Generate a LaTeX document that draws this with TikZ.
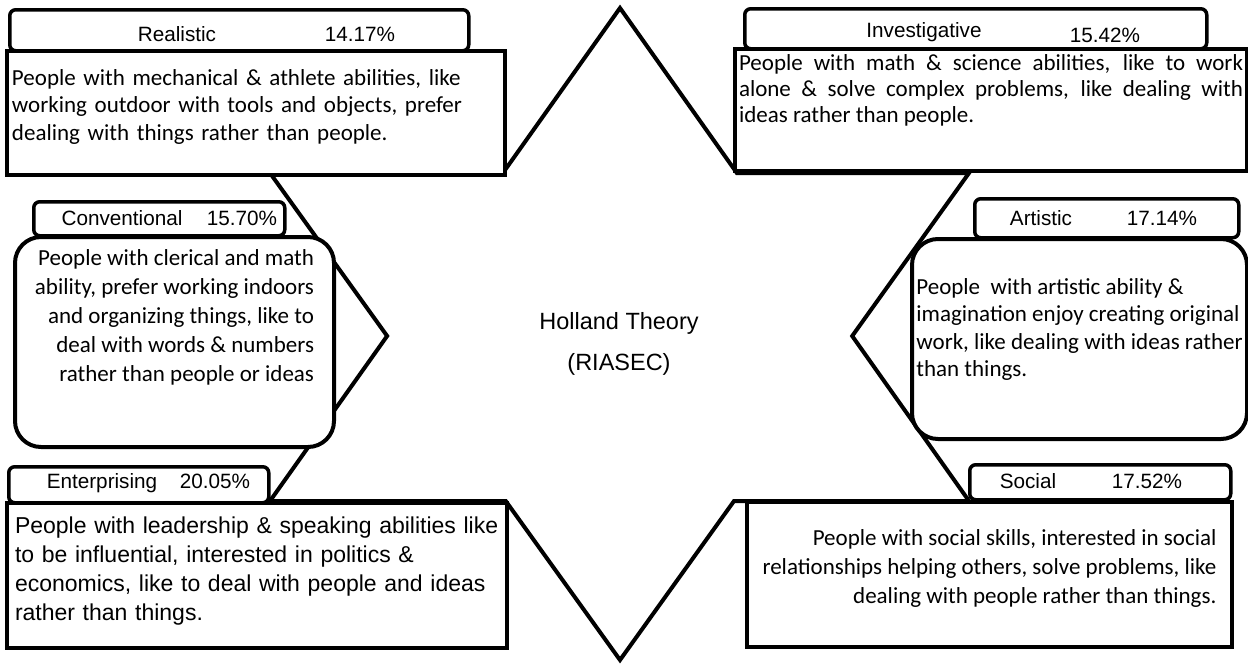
\documentclass[tikz,border=0pt]{standalone}
\usepackage{fontspec}
\setmainfont{Carlito}
\newfontfamily\arialfont{Liberation Sans}

\begin{document}
\begin{tikzpicture}[x=1pt,y=-1pt,
  head/.style={draw,line width=3.5pt,rounded corners=6pt,fill=white,anchor=north west,inner sep=0pt},
  headtxt/.style={anchor=base,inner sep=0pt,font=\arialfont\fontsize{20.7}{24}\selectfont},
  body/.style={draw,line width=4pt,fill=white,anchor=north west,inner ysep=0pt,font=\fontsize{23}{27.5}\selectfont},
  roundbody/.style={body,rounded corners=26pt}]
\useasboundingbox (0,0) rectangle (1248,667);

\coordinate (top) at (620,8);
\coordinate (bot) at (620,660);
\coordinate (ul) at (270,173);
\coordinate (ur) at (969,173);
\coordinate (ll) at (270,501);
\coordinate (lr) at (969,501);
\coordinate (iul) at (intersection of top--ll and ul--ur);
\coordinate (iur) at (intersection of top--lr and ul--ur);
\coordinate (il) at (intersection of top--ll and ul--bot);
\coordinate (ir) at (intersection of top--lr and ur--bot);
\coordinate (ill) at (intersection of ll--lr and ul--bot);
\coordinate (ilr) at (intersection of ll--lr and ur--bot);
\draw[line width=4pt] (top) -- (iur) -- (ur) -- (ir) -- (lr) -- (ilr) -- (bot)
  -- (ill) -- (ll) -- (il) -- (ul) -- (iul) -- cycle;

\node[body,text width=488pt,inner xsep=5pt,text height=34pt,text depth=90pt,align=left] (realB) at (5,49)
  {People with mechanical \& athlete abilities, like\\working outdoor with tools and objects, prefer\\dealing with things rather than people.};
\node[body,text width=504pt,inner xsep=4pt,text height=21pt,text depth=101pt,align=justify,
  font=\fontsize{23}{26}\selectfont] (invB) at (733,47)
  {People with math \& science abilities, like to work\linebreak alone \& solve complex problems, like dealing with\linebreak ideas rather than people.};
\node[roundbody,minimum width=319pt,inner xsep=0pt,text height=144pt,text depth=66pt,align=right,
  font=\fontsize{23}{29}\selectfont] (convB) at (13,235)
  {People with clerical and math\\ability, prefer working indoors\\and organizing things, like to\\deal with words \& numbers\\rather than people or ideas};
\node[roundbody,minimum width=335pt,inner xsep=0pt,text height=137.5pt,text depth=62.5pt,align=left] (artB) at (910,237)
  {People~ with artistic ability \&\\imagination enjoy creating original\\work, like dealing with ideas rather\\than things.};
\node[body,text width=484pt,inner xsep=8pt,text height=30pt,text depth=115pt,align=left,
  font=\arialfont\fontsize{23}{29}\selectfont] (entB) at (5,501)
  {People with leadership \& speaking abilities like\\to be influential, interested in politics \&\\economics, like to deal with people and ideas\\rather than things.};
\node[body,minimum width=485pt,inner xsep=0pt,text height=101pt,text depth=44pt,align=right,
  font=\fontsize{23}{29}\selectfont] (socB) at (745,500)
  {People with social skills, interested in social\\relationships helping others, solve problems, like\\dealing with people rather than things.};

\node[head,minimum width=459pt,minimum height=41pt] (realH) at (8,8) {};
\node[head,minimum width=462pt,minimum height=40pt] (invH) at (743,7) {};
\node[head,minimum width=251pt,minimum height=34pt] (convH) at (32,200) {};
\node[head,minimum width=264pt,minimum height=39pt] (artH) at (973,197) {};
\node[head,minimum width=260pt,minimum height=36pt] (entH) at (7,465) {};
\node[head,minimum width=261pt,minimum height=35pt] (socH) at (968,463) {};

\node[headtxt] (realN) at (177,41.5) {Realistic};
\node[headtxt] (realP) at (360,41.5) {14.17\%};
\node[headtxt] (invN) at (924,37) {Investigative};
\node[headtxt] (invP) at (1105,42) {15.42\%};
\node[headtxt] (convN) at (122,225) {Conventional};
\node[headtxt] (convP) at (242,225) {15.70\%};
\node[headtxt] (artN) at (1041,225) {Artistic};
\node[headtxt] (artP) at (1162,225) {17.14\%};
\node[headtxt] (entN) at (102,488) {Enterprising};
\node[headtxt] (entP) at (215,488) {20.05\%};
\node[headtxt] (socN) at (1028,488) {Social};
\node[headtxt] (socP) at (1147,488) {17.52\%};

\node[anchor=north,inner sep=0pt,align=center,font=\arialfont\fontsize{23.5}{28}\selectfont] (theory) at (619,312)
  {Holland Theory\\[13pt](RIASEC)};
\end{tikzpicture}
\end{document}
